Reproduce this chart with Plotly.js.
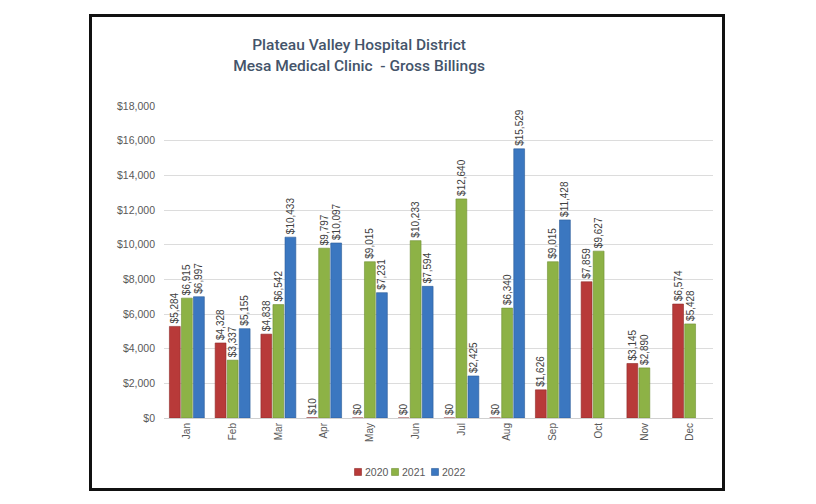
<!DOCTYPE html>
<html>
<head>
<meta charset="utf-8">
<script src="https://cdn.plot.ly/plotly-3.0.1.min.js"></script>
<style>
  html, body { margin: 0; padding: 0; background: #fff; }
  #chart { position: absolute; left: 0; top: 0; width: 816px; height: 504px; }
  #frame { position: absolute; left: 89px; top: 14px; width: 636px; height: 477px;
           box-sizing: border-box; border: 3px solid #111; pointer-events: none; }
</style>
</head>
<body>
<div id="chart"></div>
<div id="frame"></div>
<script>
const months = ["Jan","Feb","Mar","Apr","May","Jun","Jul","Aug","Sep","Oct","Nov","Dec"];
const y2020 = [5284, 4328, 4838, 10, 0, 0, 0, 0, 1626, 7859, 3145, 6574];
const y2021 = [6915, 3337, 6542, 9797, 9015, 10233, 12640, 6340, 9015, 9627, 2890, 5428];
const y2022 = [6997, 5155, 10433, 10097, 7231, 7594, 2425, 15529, 11428, null, null, null];
const seriesNames = ["2020", "2021", "2022"];

const fills = ["#B83A39", "#8DB246", "#3B77C0"];
const edges = ["#8E2B2A", "#6E8E33", "#2C5C98"];
const lblFont = "Liberation Sans, Arial, sans-serif";

const data = [y2020, y2021, y2022].map((vals, i) => ({
  type: "bar",
  name: seriesNames[i],
  x: months,
  y: vals,
  marker: { color: fills[i], line: { color: edges[i], width: 0.6 } },
  texttemplate: "$%{y:,.0f}",
  textposition: "outside",
  textangle: -90,
  constraintext: "none",
  cliponaxis: false,
  textfont: { family: lblFont, size: 10, color: "#404040" },
  hoverinfo: "none",
  showlegend: false
}));

// custom compact legend (small swatches close to their labels)
const legX = [0.3534, 0.4208, 0.4936];
const legY = -0.173;
const shapes = seriesNames.map((n, i) => ({
  type: "rect", xref: "paper", yref: "paper",
  xsizemode: "pixel", ysizemode: "pixel",
  xanchor: legX[i], yanchor: legY,
  x0: -3.5, x1: 3.5, y0: -3.5, y1: 3.5,
  fillcolor: fills[i], line: { color: edges[i], width: 0.6 }
}));
const annotations = seriesNames.map((n, i) => ({
  text: n, xref: "paper", yref: "paper",
  x: legX[i], xshift: 5, y: legY, xanchor: "left", yanchor: "middle",
  showarrow: false,
  font: { family: lblFont, size: 10.5, color: "#595959" }
}));

const layout = {
  width: 816, height: 504,
  margin: { l: 164, r: 103, t: 106, b: 86 },
  paper_bgcolor: "#ffffff",
  plot_bgcolor: "#ffffff",
  barmode: "group",
  bargap: 0.21,
  bargroupgap: 0.1,
  title: {
    text: "Plateau Valley Hospital District<br>Mesa Medical Clinic  - Gross Billings",
    x: 0.44, xanchor: "center", xref: "container",
    y: 0.9, yanchor: "top", yref: "container",
    font: { family: "Roboto, Arial, sans-serif", size: 15.5, weight: 500, color: "#44546A" }
  },
  xaxis: {
    type: "category",
    tickangle: -90,
    tickfont: { family: lblFont, size: 10, color: "#595959" },
    showline: true, linecolor: "#d0d0d0", linewidth: 1,
    ticks: "", showgrid: false
  },
  yaxis: {
    range: [0, 18000],
    dtick: 2000,
    tickprefix: "$",
    tickformat: ",.0f",
    tickfont: { family: lblFont, size: 10.5, color: "#595959" },
    gridcolor: "#dcdcdc", gridwidth: 1,
    zeroline: false, showline: false,
    ticks: "", ticklabelstandoff: 8
  },
  showlegend: false,
  shapes: shapes,
  annotations: annotations
};

Plotly.newPlot("chart", data, layout, { staticPlot: true });
</script>
</body>
</html>
